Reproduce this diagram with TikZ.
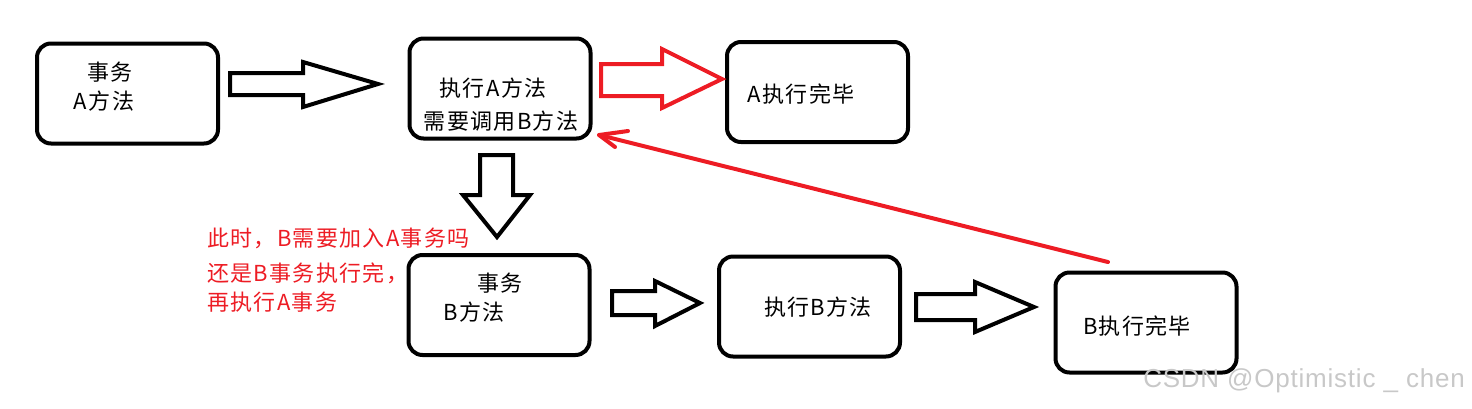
\documentclass[tikz,border=0pt]{standalone}
\usepackage{fontspec}
\newfontfamily\cjk[LetterSpace=6]{Noto Sans CJK SC}
\newfontfamily\wm[LetterSpace=3]{Liberation Sans}
\usetikzlibrary{arrows.meta}
\definecolor{pred}{HTML}{ED1C24}
\definecolor{wmgray}{HTML}{C8C8C8}
\begin{document}
\begin{tikzpicture}[x=1pt,y=-1pt,
  box/.style={draw=black,line width=4pt,rounded corners=14pt,inner sep=0pt,minimum width=181pt,minimum height=100pt},
  txt/.style={font=\cjk\fontsize{22}{24}\selectfont,inner sep=0pt},
  rtxt/.style={txt,text=pred,anchor=west},
  blk/.style={draw=black,line width=4pt,line join=miter},
  redline/.style={draw=pred,line width=4pt,line cap=round,line join=round}]
\useasboundingbox (0,0) rectangle (1472,408);
% boxes
\node[box] (b1) at (127.5,93.5) {};
\node[box] (b2) at (500,88.5) {};
\node[box] (b3) at (817.5,92) {};
\node[box] (b4) at (499,305) {};
\node[box] (b5) at (809.5,306.5) {};
\node[box] (b6) at (1146,322.5) {};
% texts
\node[txt] (t1a) at (110,72) {事务};
\node[txt] (t1b) at (104,101) {A方法};
\node[txt] (t2a) at (493,88) {执行A方法};
\node[txt] (t2b) at (501,121) {需要调用B方法};
\node[txt] (t3) at (801,94) {A执行完毕};
\node[txt] (t4a) at (500,283) {事务};
\node[txt] (t4b) at (474,312) {B方法};
\node[txt] (t5) at (818,307) {执行B方法};
\node[txt] (t6) at (1137,326) {B执行完毕};
% red notes
\node[rtxt] (n1) at (207,238) {此时，B需要加入A事务吗};
\node[rtxt] (n2) at (207,273) {还是B事务执行完，};
\node[rtxt] (n3) at (207,302) {再执行A事务};
% block arrows
\draw[blk] (230,73) -- (303,73) -- (303,62) -- (378,84) -- (303,107) -- (303,95) -- (230,95) -- cycle;
\draw[blk,draw=pred] (601,64) -- (662,64) -- (662,49) -- (722,79) -- (662,108) -- (662,96) -- (601,96) -- cycle;
\draw[blk] (480,155) -- (513,155) -- (513,195) -- (530,195) -- (497,237) -- (463,195) -- (480,195) -- cycle;
\draw[blk] (612,291) -- (655,291) -- (655,281) -- (700,303) -- (655,326) -- (655,315) -- (612,315) -- cycle;
\draw[blk] (916,294) -- (975,294) -- (975,282) -- (1034,307) -- (975,332) -- (975,320) -- (916,320) -- cycle;
% red return line
\coordinate (rs) at (1108,262);
\coordinate (rt) at (599,135);
\draw[redline] (rs) -- (rt);
\draw[redline] (628,131) -- (rt) -- (615,147);
% watermark
\node[font=\wm\fontsize{26}{28}\selectfont,text=wmgray,inner sep=0pt] (wm) at (1304,381) {CSDN @Optimistic \_ chen};
\end{tikzpicture}
\end{document}
